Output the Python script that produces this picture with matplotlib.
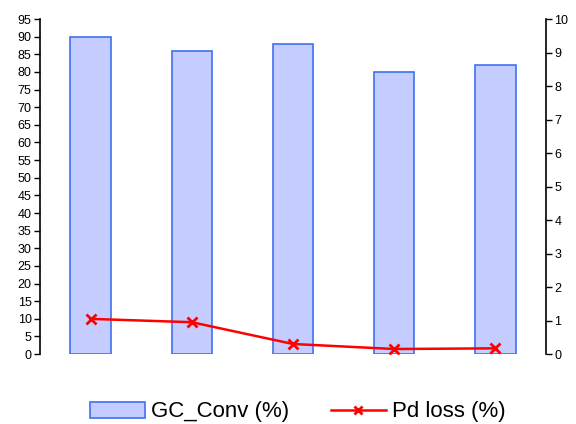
import matplotlib.pyplot as plt
import numpy as np

plt.rcParams['font.family'] = ['Liberation Sans', 'DejaVu Sans']

samples = ['1', '2', '3', '4', '5']
gc_conv = [90, 86, 88, 80, 82]
pd_loss = [1.05, 0.95, 0.3, 0.15, 0.17]

x = np.arange(len(samples))

fig = plt.figure(figsize=(5.76, 4.24), dpi=100)
ax = fig.add_axes([0.0694, 0.165, 0.8785, 0.79])
ax2 = ax.twinx()

bars = ax.bar(x, gc_conv, width=0.4, color='#C5CCFF', edgecolor='#4070F0',
              linewidth=1.2, label='GC_Conv (%)')
line, = ax2.plot(x, pd_loss, color='#FF0000', marker='x', markersize=7,
                 markeredgewidth=2, linewidth=1.8, label='Pd loss (%)')

ax.set_xlim(-0.5, 4.5)
ax.set_ylim(0, 95)
ax.set_yticks(np.arange(0, 96, 5))
ax2.set_ylim(0, 10)
ax2.set_yticks(np.arange(0, 11, 1))
ax.set_xticks([])

for a in (ax, ax2):
    a.spines['top'].set_visible(False)
    a.spines['bottom'].set_visible(False)
    a.tick_params(axis='y', labelsize=9, length=4, width=1, direction='out', pad=2)
ax.spines['right'].set_visible(False)
ax2.spines['left'].set_visible(False)
ax.spines['left'].set_linewidth(1.2)
ax2.spines['right'].set_linewidth(1.2)

fig.legend([bars, line], ['GC_Conv (%)', 'Pd loss (%)'], loc='center',
           bbox_to_anchor=(0.517, 12 / 424), ncol=2, frameon=False, fontsize=16,
           handlelength=2.45, columnspacing=1.9, handletextpad=0.28,
           markerscale=0.8)

fig.savefig('out.png', dpi=100)
